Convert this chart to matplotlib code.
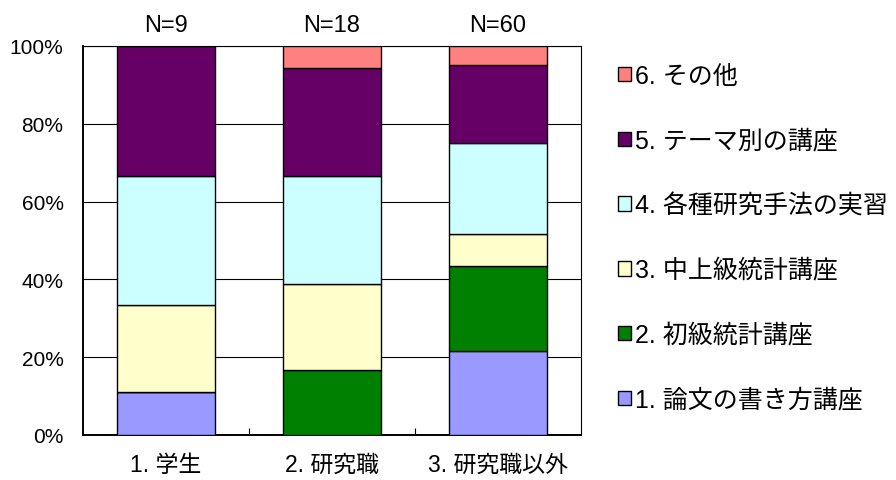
import matplotlib
matplotlib.use("Agg")
import matplotlib.pyplot as plt
import numpy as np

plt.rcParams['font.family'] = ['Liberation Sans', 'Noto Sans CJK JP', 'DejaVu Sans']

# Respondent groups and counts per preferred course type
categories = ["1. 学生", "2. 研究職", "3. 研究職以外"]
group_n = [9, 18, 60]
series_labels = ["1. 論文の書き方講座", "2. 初級統計講座", "3. 中上級統計講座",
                 "4. 各種研究手法の実習", "5. テーマ別の講座", "6. その他"]
counts = [
    [1, 0, 13],   # 論文の書き方講座
    [0, 3, 13],   # 初級統計講座
    [2, 4, 5],    # 中上級統計講座
    [3, 5, 14],   # 各種研究手法の実習
    [3, 5, 12],   # テーマ別の講座
    [0, 1, 3],    # その他
]
colors = ["#9999FF", "#008000", "#FFFFCC", "#CCFFFF", "#660066", "#FF8080"]
yticks = [0, 20, 40, 60, 80, 100]

counts = np.array(counts, dtype=float)
shares = counts / np.array(group_n, dtype=float) * 100

fig = plt.figure(figsize=(8.96, 4.81), dpi=100)
ax = fig.add_axes([0.0926, 0.0936, 0.5558, 0.8087])

x = np.arange(len(categories))
bottom = np.zeros(len(categories))
bars = []
for vals, lab, col in zip(shares, series_labels, colors):
    b = ax.bar(x, vals, width=0.59, bottom=bottom, color=col,
               edgecolor="black", linewidth=1.0, label=lab, zorder=3)
    bars.append(b)
    bottom += vals

ax.set_xlim(-0.5, len(categories) - 0.5)
ax.set_ylim(0, 100)
ax.set_yticks(yticks)
ax.set_yticklabels([f"{v}%" for v in yticks], fontsize=15)
ax.yaxis.grid(True, color="black", linewidth=0.8, zorder=0)
ax.set_axisbelow(True)
ax.tick_params(axis="y", length=0, pad=14)

ax.set_xticks(x)
ax.set_xticklabels(categories, fontsize=16.5)
ax.tick_params(axis="x", length=0, pad=13)
ax.set_xticks(np.arange(len(categories) - 1) + 0.5, minor=True)
ax.tick_params(axis="x", which="minor", direction="in", length=5, width=0.8)

for s in ax.spines.values():
    s.set_color("black")
    s.set_linewidth(0.8)
ax.spines["left"].set_linewidth(1.4)
ax.spines["bottom"].set_linewidth(1.4)

for xi, n in zip(x, group_n):
    ax.text(xi, 102.5, f"N={n}", ha="center", va="bottom", fontsize=17)

handles = [b[0] for b in bars][::-1]
labels = series_labels[::-1]
fig.legend(handles, labels, loc="upper left", bbox_to_anchor=(0.6897, 0.865),
           frameon=False, fontsize=18, labelspacing=1.63, handlelength=0.52,
           handleheight=0.52, handletextpad=0.18, borderpad=0,
           borderaxespad=0)

fig.savefig("out.png", dpi=100)
